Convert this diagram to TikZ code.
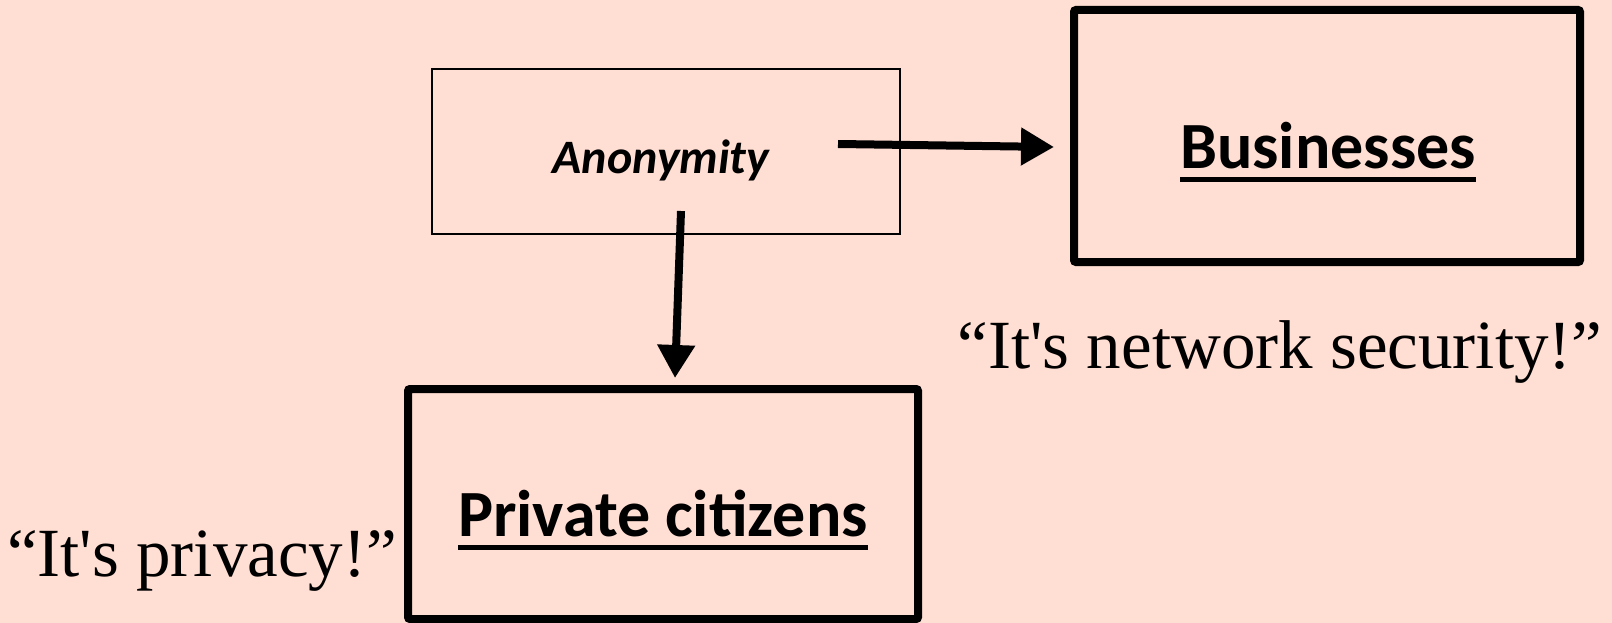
\documentclass[tikz,border=0pt]{standalone}
\usepackage{fontspec}
\setmainfont{Liberation Serif}[Ligatures=TeXOff]
\newfontfamily\calib{Carlito}
\usetikzlibrary{arrows.meta}
\definecolor{bgpeach}{RGB}{255,222,211}
\newcommand\myul[1]{\setbox0\hbox{#1}\rlap{\rule[-13.5pt]{\wd0}{4.5pt}}\box0}
\tikzset{
  thinbox/.style={draw, line width=1.5pt},
  thickbox/.style={draw, line width=8pt, rounded corners=2pt},
  bigarrow/.style={line width=8pt, -{Triangle[length=33pt,width=36pt]}},
  boxlabel/.style={font=\calib\bfseries\fontsize{66}{70}\selectfont, anchor=base, inner sep=0pt},
  quote/.style={font=\fontsize{69}{72}\selectfont, anchor=base, inner sep=0pt},
}
\begin{document}
\begin{tikzpicture}[x=1pt,y=-1pt]
\useasboundingbox[fill=bgpeach] (0,0) rectangle (1612,623);
% boxes
\node[thinbox, minimum width=468pt, minimum height=165pt, inner sep=0pt] (anon) at (666,151.5) {};
\node[thickbox, minimum width=506pt, minimum height=252pt, inner sep=0pt] (bus) at (1327,136) {};
\node[thickbox, minimum width=510pt, minimum height=230pt, inner sep=0pt] (priv) at (663,504) {};
% texts
\node[font=\calib\bfseries\itshape\fontsize{48}{52}\selectfont, anchor=base, inner sep=0pt] (anontxt) at (661,173) {Anonymity};
\node[boxlabel] (bustxt) at (1328,168) {\myul{Businesses}};
\node[boxlabel] (privtxt) at (663,536) {\myul{Private citizens}};
\node[quote] (netq) at (1280,368) {“It's network security!”};
\node[quote] (privq) at (202,576) {“It's privacy!”};
% arrows
\coordinate (a1s) at (838,144);
\coordinate (a1e) at (1054,147);
\coordinate (a2s) at (681,211);
\coordinate (a2e) at (675,378);
\draw[bigarrow] (a1s) -- (a1e);
\draw[bigarrow] (a2s) -- (a2e);
\end{tikzpicture}
\end{document}
